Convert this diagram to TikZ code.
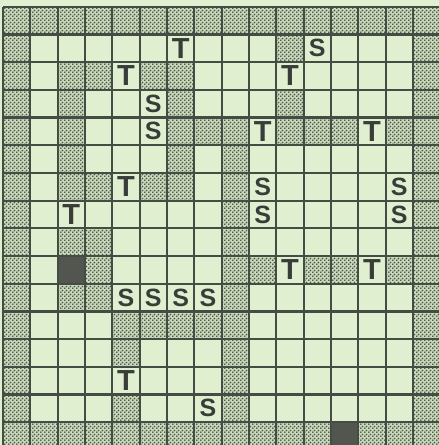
\documentclass[tikz,border=0pt]{standalone}
\usepackage{fontspec}
\setmainfont{Liberation Sans}
\usetikzlibrary{patterns}
\definecolor{bg}{HTML}{E0EFD0}
\definecolor{ink}{HTML}{444C43}
\definecolor{dotc}{HTML}{4A5347}
\definecolor{stipbg}{HTML}{C9D8BA}
\definecolor{darkcell}{HTML}{52564F}
\definecolor{lettc}{HTML}{383D39}
\pgfdeclarepatternformonly{stipple}{\pgfqpoint{0pt}{0pt}}{\pgfqpoint{4pt}{4pt}}{\pgfqpoint{4pt}{4pt}}{%
  \pgfpathcircle{\pgfqpoint{1pt}{1pt}}{1.1pt}%
  \pgfpathcircle{\pgfqpoint{3pt}{3pt}}{1.1pt}%
  \pgfusepath{fill}}
\tikzset{
  stip/.style={fill=stipbg, postaction={pattern=stipple, pattern color=dotc}},
  blackcell/.style={fill=darkcell},
  gridline/.style={draw=ink, line width=2.2pt},
  lettT/.style={inner sep=0pt, text=lettc, font=\fontsize{29}{29}\selectfont\bfseries},
  lettS/.style={inner sep=0pt, text=lettc, font=\fontsize{25}{25}\selectfont\bfseries},
}
\begin{document}
\begin{tikzpicture}[x=1pt,y=-1pt]
\def\cw{27.33}
\def\ch{27.7}
\def\ox{3}
\def\oy{6.7}
\useasboundingbox[fill=bg] (0,0) rectangle (439,445);
\clip (0,0) rectangle (439,445);
% shaded cells
\foreach \c in {0,...,15} {
  \path[stip] ({\ox+\c*\cw},{\oy}) rectangle ++(\cw,\ch);
}
\foreach \c in {0,...,11,13,14,15} {
  \path[stip] ({\ox+\c*\cw},{\oy+15*\ch}) rectangle ++(\cw,\ch);
}
\foreach \r in {1,...,14} {
  \path[stip] ({\ox},{\oy+\r*\ch}) rectangle ++(\cw,\ch);
  \path[stip] ({\ox+15*\cw},{\oy+\r*\ch}) rectangle ++(\cw,\ch);
}
\foreach \r in {4,...,14} {
  \path[stip] ({\ox+8*\cw},{\oy+\r*\ch}) rectangle ++(\cw,\ch);
}
\foreach \c/\r in {10/1, 2/2, 3/2, 5/2, 6/2, 2/3, 6/3, 10/3,
  2/4, 6/4, 7/4, 10/4, 11/4, 12/4, 14/4, 2/5, 6/5,
  2/6, 3/6, 5/6, 6/6, 2/8, 3/8, 3/9, 9/9, 11/9, 12/9, 14/9,
  2/10, 3/10, 4/11, 5/11, 6/11, 7/11, 4/12, 4/14} {
  \path[stip] ({\ox+\c*\cw},{\oy+\r*\ch}) rectangle ++(\cw,\ch);
}
% dark cells
\fill[blackcell] ({\ox+2*\cw},{\oy+9*\ch}) rectangle ++(\cw,\ch);
\fill[blackcell] ({\ox+12*\cw},{\oy+15*\ch}) rectangle ++(\cw,\ch);
% grid
\foreach \i in {0,...,16} {
  \draw[gridline] ({\ox+\i*\cw},{\oy}) -- ({\ox+\i*\cw},{\oy+16*\ch});
  \draw[gridline] ({\ox},{\oy+\i*\ch}) -- ({\ox+16*\cw},{\oy+\i*\ch});
}
% letters
\foreach \c/\r in {6/1, 4/2, 10/2, 9/4, 13/4, 4/6, 2/7, 10/9, 13/9, 4/13} {
  \node[lettT] (T-\c-\r) at ({\ox+(\c+0.5)*\cw},{\oy+(\r+0.5)*\ch}) {T};
}
\foreach \c/\r in {11/1, 5/3, 5/4, 9/6, 14/6, 9/7, 14/7, 4/10, 5/10, 6/10, 7/10, 7/14} {
  \node[lettS] (S-\c-\r) at ({\ox+(\c+0.5)*\cw},{\oy+(\r+0.5)*\ch}) {S};
}
\end{tikzpicture}
\end{document}
